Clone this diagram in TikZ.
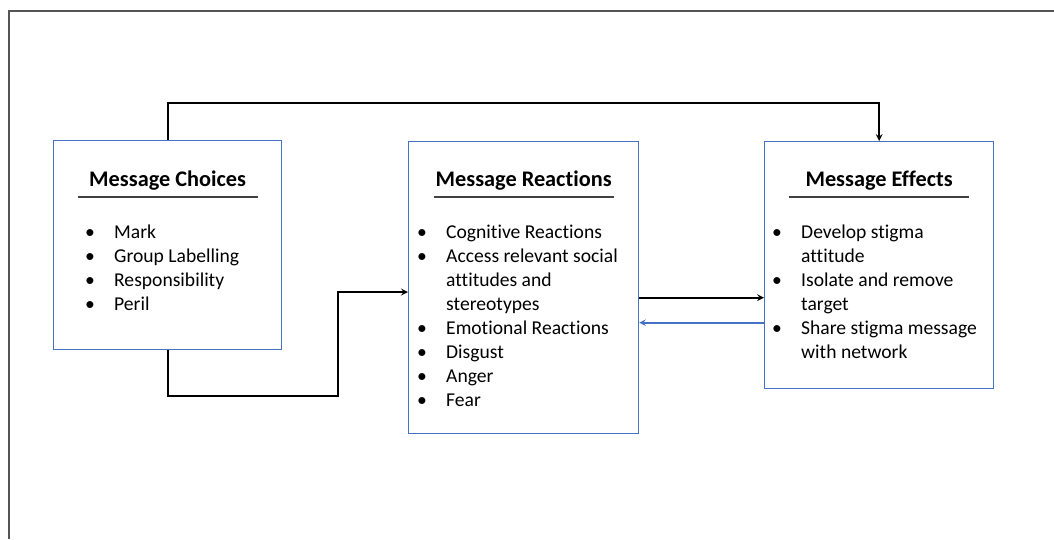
\documentclass[tikz,border=0pt]{standalone}
\usepackage{fontspec}
\setmainfont{Carlito}[Ligatures=NoCommon]
\usetikzlibrary{positioning}
\definecolor{boxblue}{HTML}{4472C4}
\definecolor{framegray}{HTML}{555555}
\newcommand{\bul}{\makebox[29pt][l]{\textbullet}}
\newcommand{\cont}{\hspace*{29pt}}
\begin{document}
\begin{tikzpicture}[x=1pt, y=-1pt, >=stealth,
    box/.style={draw=boxblue, line width=1.3pt, anchor=north west, inner sep=0pt},
    title/.style={font=\fontsize{22.3}{26}\selectfont\bfseries, anchor=base, inner sep=0pt},
    items/.style={font=\fontsize{19.6}{24}\selectfont, align=left, anchor=north west, inner sep=0pt},
    rule/.style={line width=1.2pt, draw=black!75},
    arr/.style={->, line width=2pt}]

  \useasboundingbox (0,0) rectangle (1054,539);

  % Rahmen
  \draw[framegray, line width=1.5pt] (1054,11) -- (9,11) -- (9,539);

  % Kaesten
  \node[box, minimum width=228pt, minimum height=209pt] (choices) at (53,140) {};
  \node[box, minimum width=230pt, minimum height=292pt] (reactions) at (408,141) {};
  \node[box, minimum width=229pt, minimum height=247pt] (effects) at (764,141) {};

  % Ueberschriften
  \node[title] (choicesT) at ([yshift=-46pt]choices.north) {Message Choices};
  \node[title] (reactionsT) at ([yshift=-45pt]reactions.north) {Message Reactions};
  \node[title] (effectsT) at ([yshift=-45pt]effects.north) {Message Effects};
  \draw[rule] ([xshift=-90pt,yshift=-57pt]choices.north) -- ++(180,0);
  \draw[rule] ([xshift=-90pt,yshift=-56pt]reactions.north) -- ++(180,0);
  \draw[rule] ([xshift=-90pt,yshift=-56pt]effects.north) -- ++(180,0);

  % Listen
  \node[items] (choicesL) at (85,225) {%
    \bul Mark\\
    \bul Group Labelling\\
    \bul Responsibility\\
    \bul Peril};
  \node[items] (reactionsL) at (417,225) {%
    \bul Cognitive Reactions\\
    \bul Access relevant social\\
    \cont attitudes and\\
    \cont stereotypes\\
    \bul Emotional Reactions\\
    \bul Disgust\\
    \bul Anger\\
    \bul Fear};
  \node[items] (effectsL) at (772,225) {%
    \bul Develop stigma\\
    \cont attitude\\
    \bul Isolate and remove\\
    \cont target\\
    \bul Share stigma message\\
    \cont with network};

  % Verbindungen
  \draw[arr] (choices.north) -- ++(0,-37) -| (effects.north);
  \coordinate (bend) at (338,292);
  \draw[arr] (choices.south) -- ++(0,46) -| (bend) -- (bend -| reactions.west);
  \coordinate (out) at ([yshift=-10pt]reactions.east);
  \draw[arr] (out) -- (out -| effects.west);
  \coordinate (back) at ([yshift=-57.5pt]effects.west);
  \draw[arr, boxblue, line width=1.8pt] (back) -- (back -| reactions.east);

\end{tikzpicture}
\end{document}
